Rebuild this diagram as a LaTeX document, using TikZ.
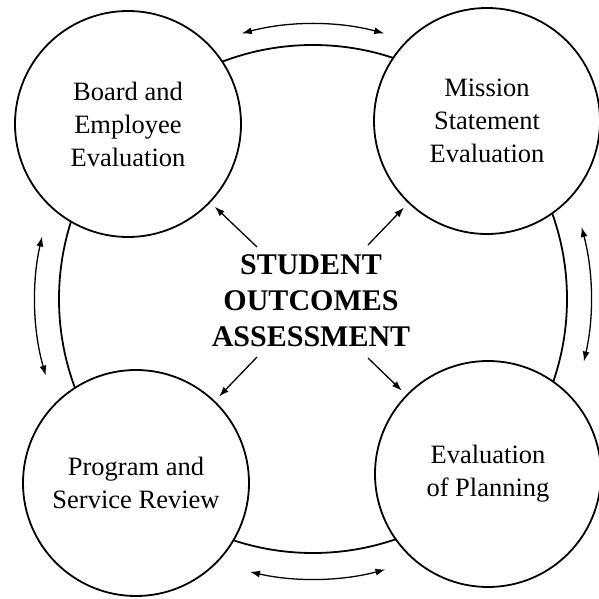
\documentclass[tikz,border=0pt]{standalone}
\usepackage{fontspec}
\setmainfont{Liberation Serif}
\usetikzlibrary{arrows.meta}
\begin{document}
\begin{tikzpicture}[x=1pt,y=1pt,
  bubble/.style={circle,draw,line width=1.8pt,fill=white,minimum size=226pt,inner sep=0pt,align=center,
    font=\fontsize{26.5}{33}\selectfont},
  ring/.style={line width=1.8pt},
  arr/.style={line width=1.3pt,-{Latex[length=10pt,width=7pt]},shorten >=6pt},
  dbl/.style={line width=1.3pt,{Latex[length=10pt,width=7pt]}-{Latex[length=10pt,width=7pt]}}]
\useasboundingbox (0,0) rectangle (599,598);
\coordinate (O) at (313,299);
\draw[ring] (O) circle[radius=254];
\node[bubble] (tl) at (128,474) {Board and\\Employee\\Evaluation};
\node[bubble] (tr) at (487,477) {Mission\\Statement\\Evaluation};
\node[bubble] (bl) at (136,115) {Program and\\Service Review};
\node[bubble] (br) at (488,124) {Evaluation\\of Planning};
\node[align=center,font=\fontsize{30}{36}\selectfont\bfseries] (c) at (311,297) {STUDENT\\OUTCOMES\\ASSESSMENT};
\coordinate (t1) at (257,351);
\coordinate (t2) at (368,353);
\coordinate (t3) at (257,241);
\coordinate (t4) at (368,240);
\draw[arr] (t1) -- (tl);
\draw[arr] (t2) -- (tr);
\draw[arr] (t3) -- (bl);
\draw[arr] (t4) -- (br);
\draw[dbl] ([shift={(105:275)}]O) arc[start angle=105,end angle=75,radius=275];
\draw[dbl] ([shift={(167:278)}]O) arc[start angle=167,end angle=196,radius=278];
\draw[dbl] ([shift={(15:278)}]O) arc[start angle=15,end angle=-13,radius=278];
\draw[dbl] ([shift={(257:280)}]O) arc[start angle=257,end angle=285,radius=280];
\end{tikzpicture}
\end{document}
